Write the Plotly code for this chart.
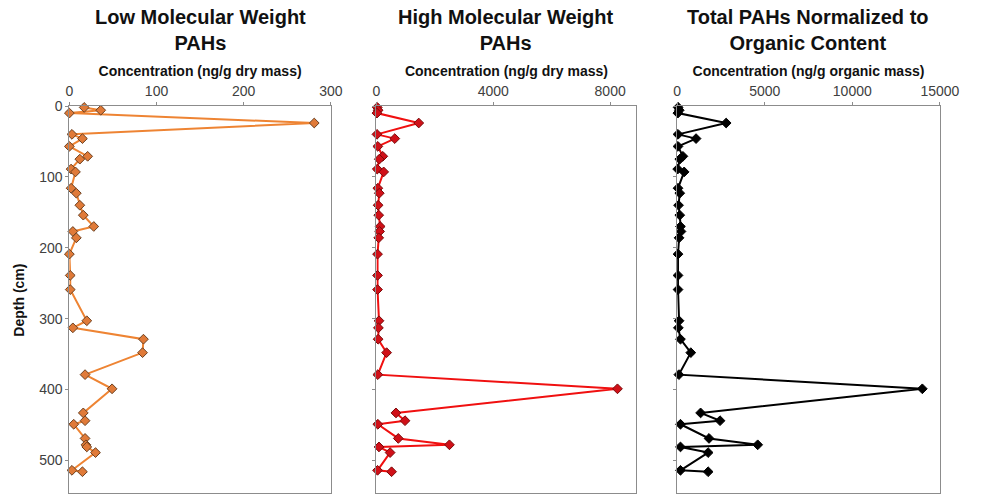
import plotly.graph_objects as go

depth = [2, 6, 10, 24, 40, 46, 57, 71, 75, 89, 93, 116, 123, 140, 154, 170, 177, 186,
         209, 239, 259, 303, 313, 329, 348, 379, 399, 433, 444, 449, 469, 478, 481, 489,
         514, 516]

lmw = [17, 36, 0, 281, 3, 15, 0, 21, 12, 2, 7, 2, 8, 12, 16, 28, 4, 8,
       0, 1, 1, 20, 4, 85, 84, 18, 49, 16, 18, 5, 18, 19, 20, 30,
       3, 15]

hmw = [30, 60, 20, 1450, 20, 630, 50, 220, 100, 30, 250, 50, 100, 60, 80, 130, 110, 80,
       40, 40, 40, 90, 70, 60, 350, 50, 8250, 670, 980, 50, 750, 2500, 90, 470,
       40, 520]

norm = [60, 120, 40, 2800, 50, 1080, 50, 330, 150, 30, 400, 50, 150, 80, 150, 190, 220, 110,
        50, 50, 50, 110, 70, 190, 780, 100, 14000, 1340, 2450, 190, 1820, 4600, 190, 1770,
        190, 1770]

titles = ["<b>Low Molecular Weight<br>PAHs</b>",
          "<b>High Molecular Weight<br>PAHs</b>",
          "<b>Total PAHs Normalized to<br>Organic Content</b>"]
xtitles = ["<b>Concentration (ng/g dry mass)</b>",
           "<b>Concentration (ng/g dry mass)</b>",
           "<b>Concentration (ng/g organic mass)</b>"]
ytitle = "<b>Depth (cm)</b>"
xranges = [[0, 300], [0, 8900], [0, 15000]]
xdtick = [100, 4000, 5000]

W, H = 982, 495
TOP, BOT = 106, 2
dom_px = [(67, 335), (381.7, 648.3), (690, 959.3)]

line_cols = ["#EE8433", "#F01010", "#000000"]
mk_fill = ["#E07A38", "#D01018", "#000000"]
mk_line = ["#6B4020", "#7A0A0A", "#000000"]
series = [lmw, hmw, norm]

font = "Liberation Sans, Arial, sans-serif"
fig = go.Figure()
for i in range(3):
    ax = "" if i == 0 else str(i + 1)
    fig.add_trace(go.Scatter(
        x=series[i], y=depth, mode="lines+markers",
        xaxis="x" + ax, yaxis="y" + ax,
        line=dict(color=line_cols[i], width=2),
        marker=dict(symbol="diamond", size=7.5, color=mk_fill[i],
                    line=dict(color=mk_line[i], width=1)),
        showlegend=False, cliponaxis=False))

plot_h = H - TOP - BOT
layout = dict(
    width=W, height=H,
    margin=dict(l=0, r=0, t=TOP, b=BOT),
    paper_bgcolor="white", plot_bgcolor="white",
    font=dict(family=font, color="#404040", size=14),
    annotations=[],
)
for i in range(3):
    ax = "" if i == 0 else str(i + 1)
    d0, d1 = dom_px[i]
    layout["xaxis" + ax] = dict(
        domain=[d0 / W, d1 / W], range=xranges[i], dtick=xdtick[i], tick0=0,
        tickformat="d",
        side="top", anchor="y" + ax, showgrid=False, zeroline=False,
        showline=True, linecolor="#8c8c8c", linewidth=1, mirror=True,
        ticks="outside", ticklen=3, tickcolor="#8c8c8c",
        tickfont=dict(size=14, color="#404040", family=font),
        title=dict(text=xtitles[i], font=dict(size=14, color="#111111", family=font),
                   standoff=3),
        fixedrange=True)
    layout["yaxis" + ax] = dict(
        domain=[0, 1], range=[546, 0], dtick=100, tick0=0,
        anchor="x" + ax, showgrid=False, zeroline=False,
        showline=True, linecolor="#8c8c8c", linewidth=1, mirror=True,
        ticks="outside", ticklen=3, tickcolor="#8c8c8c",
        showticklabels=(i == 0),
        tickfont=dict(size=14, color="#404040", family=font),
        fixedrange=True)
    layout["annotations"].append(dict(
        text=titles[i], x=(d0 + d1) / 2 / W, y=1 + (TOP - 30) / plot_h,
        xref="paper", yref="paper",
        yanchor="middle", xanchor="center", showarrow=False,
        font=dict(size=20, color="#111111", family=font)))

layout["annotations"].append(dict(
    text=ytitle, x=15 / W, y=1 - (300 - TOP) / plot_h, xref="paper", yref="paper",
    xanchor="center", yanchor="middle", showarrow=False, textangle=-90,
    font=dict(size=14, color="#111111", family=font)))

fig.update_layout(**layout)
fig.write_html("out.html")
